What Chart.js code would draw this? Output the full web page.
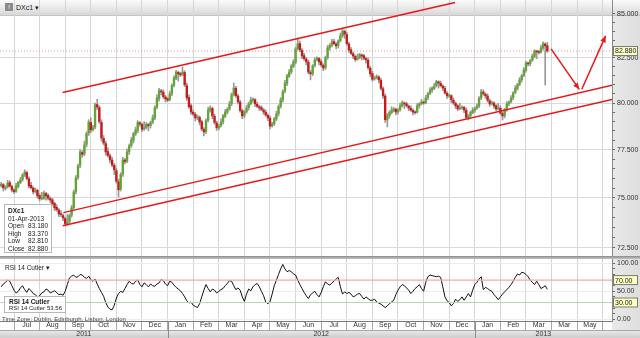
<!DOCTYPE html>
<html>
<head>
<meta charset="utf-8">
<script src="https://cdn.jsdelivr.net/npm/chart.js@4.4.1/dist/chart.umd.min.js"></script>
<style>
  html, body { margin: 0; padding: 0; background: #fff; }
  #wrap { position: relative; width: 640px; height: 338px; overflow: hidden; background: #fff;
          font-family: Arial, "Liberation Sans", sans-serif; color: #222; }
  #chart { position: absolute; left: 0; top: 0; z-index: 2; }
  .toolbar { position: absolute; left: 0; top: 0; width: 640px; height: 15px; z-index: 1;
             background: linear-gradient(#fbfbfb, #d9d9d9);
             border-bottom: 1px solid #c4c4c4; }
  .icon { position: absolute; left: 5px; top: 3px; width: 8px; height: 8px; background: #8a8a8a;
          color: #eee; font-size: 6px; line-height: 8px; text-align: center; }
  .sym { position: absolute; left: 16px; top: 3px; font-size: 7px; line-height: 9px; }
  .tip { position: absolute; z-index: 3; background: rgba(255,255,255,0.78); border: 1px solid #b8b8b8;
         font-size: 6.5px; line-height: 7.6px; padding: 2px 3px; box-sizing: border-box; white-space: nowrap; }
  .tip .b { font-weight: bold; }
  .tip .row { display: flex; justify-content: space-between; }
  .lbl { position: absolute; z-index: 3; font-size: 6.5px; line-height: 8px; white-space: nowrap; }
</style>
</head>
<body>
<div id="wrap">
  <div class="toolbar"><div class="icon">f</div><div class="sym">DXc1 &#9662;</div></div>
  <canvas id="chart" width="640" height="338"></canvas>
  <div class="tip" style="left:4px; top:204px; width:48px; height:49px;">
    <div class="b">DXc1</div>
    <div>01-Apr-2013</div>
    <div class="row"><span>Open</span><span>83.180</span></div>
    <div class="row"><span>High</span><span>83.370</span></div>
    <div class="row"><span>Low</span><span>82.810</span></div>
    <div class="row"><span>Close</span><span>82.880</span></div>
  </div>
  <div class="lbl" style="left:5px; top:264px;">RSI 14 Cutler &#9662;</div>
  <div class="tip" style="left:4px; top:296px; width:62px; height:17px; line-height:7px; padding:1px 3px 0 4px; font-size:6px;">
    <div class="b" style="font-size:6.5px;">RSI 14 Cutler</div>
    <div class="row"><span>RSI 14 Cutler</span><span>53.56</span></div>
  </div>
  <div class="lbl" style="left:2px; top:315px; font-size:6px; color:#444;">Time Zone: Dublin, Edinburgh, Lisbon, London</div>
</div>
<script>
// time axis: months counted from 1 Jul 2011
const monthLabels = ['Jul','Aug','Sep','Oct','Nov','Dec','Jan','Feb','Mar','Apr','May','Jun',
                     'Jul','Aug','Sep','Oct','Nov','Dec','Jan','Feb','Mar','Mar','May'];
const yearLabels = ['2011', '2012', '2013'];
const yearStarts = [-0.55, 6, 18];
const priceTicks = [72.5, 75, 77.5, 80, 82.5, 85];
const rsiTicks = [0, 50, 100];

const FIRST_CANDLE = -0.5;    // mid June 2011
const CANDLE_STEP = 1 / 12;   // months per candle
const X_MIN = -0.547, X_MAX = 23.36;

const candleOpen = [
  75.62,75.68,75.48,75.57,75.78,75.58,75.40,75.34,75.58,75.78,75.95,76.20,76.30,75.98,75.64,75.50,75.33,75.38,75.12,74.96,
  74.98,75.22,75.12,74.96,74.90,74.72,74.52,74.38,74.20,74.10,73.95,73.68,73.80,74.12,74.50,75.32,76.05,76.68,77.35,77.28,
  77.78,78.38,78.95,78.57,78.70,79.92,79.75,78.95,78.10,77.82,77.40,77.18,76.95,76.68,76.40,75.82,75.45,76.22,76.95,76.90,
  77.40,77.72,78.00,78.33,78.52,78.93,78.85,78.60,78.68,78.83,78.78,78.97,79.20,79.78,80.25,80.66,80.60,80.33,80.24,80.18,
  80.52,80.97,81.36,81.68,81.62,81.58,81.68,80.95,80.30,79.85,79.50,79.38,79.20,79.22,78.98,78.58,78.45,79.08,79.60,79.70,
  79.28,78.92,78.65,78.78,78.98,79.28,79.50,79.68,79.96,80.48,80.80,80.38,80.05,79.58,79.32,79.52,79.75,79.97,80.15,80.18,
  79.93,79.80,79.75,79.62,79.50,79.33,79.18,78.78,78.88,79.13,79.42,79.82,80.18,80.65,81.08,81.48,81.72,82.02,82.25,83.02,
  83.30,82.92,82.62,82.43,82.25,81.68,81.62,82.08,82.40,82.46,82.28,82.08,81.95,82.52,83.05,83.22,83.42,83.28,83.20,83.47,
  83.75,84.00,83.82,83.28,82.95,82.73,82.58,82.42,82.50,82.66,82.62,82.46,82.36,81.92,81.62,81.32,81.40,81.43,81.25,80.78,
  80.38,79.08,79.32,79.48,79.60,79.66,79.52,79.64,79.85,80.00,79.96,79.83,79.72,79.60,79.52,79.50,79.85,79.97,80.05,80.02,
  80.30,80.52,80.70,80.80,80.95,81.16,81.08,80.93,80.80,80.53,80.38,80.40,80.15,79.98,79.85,79.70,79.72,79.76,79.60,79.20,
  79.32,79.48,79.60,79.72,79.85,80.28,80.60,80.48,80.38,80.12,79.96,80.00,79.85,79.70,79.72,79.43,79.32,79.62,79.96,80.08,
  80.30,80.58,80.80,81.02,81.28,81.53,81.80,82.20,82.18,82.38,82.58,82.88,82.85,82.82,83.05,83.28,
  83.18];
const candleHigh = [
  75.80,75.74,75.62,75.90,75.88,75.66,75.46,75.75,75.85,76.05,76.25,76.45,76.38,76.08,75.80,75.58,75.50,75.44,75.20,75.28,
  75.35,75.28,75.20,75.05,74.98,74.78,74.65,74.46,74.35,74.18,74.02,74.15,74.18,74.62,75.40,76.15,76.75,77.50,77.45,77.95,
  78.45,79.10,79.20,78.80,80.00,80.20,79.85,79.10,78.25,77.95,77.60,77.28,77.10,76.78,76.55,75.95,76.30,77.10,77.05,77.55,
  77.80,78.15,78.42,78.70,79.05,79.00,78.92,79.00,78.95,78.90,79.02,79.35,79.85,80.45,80.80,80.75,80.72,80.42,80.30,80.65,
  81.05,81.50,81.80,81.75,81.70,81.99,81.78,81.10,80.45,79.95,79.62,79.48,79.35,79.30,79.08,78.68,79.15,79.78,79.85,79.78,
  79.40,79.02,78.85,79.15,79.38,79.65,79.75,80.10,80.55,81.10,80.92,80.48,80.15,79.68,79.60,79.88,80.05,80.32,80.28,80.24,
  80.05,79.88,79.85,79.70,79.62,79.42,79.30,78.95,79.22,79.55,79.90,80.30,80.72,81.25,81.58,81.85,82.12,82.40,83.10,83.62,
  83.45,83.02,82.75,82.52,82.38,81.80,82.12,82.50,82.55,82.52,82.40,82.16,82.60,83.20,83.30,83.55,83.55,83.36,83.52,83.90,
  84.19,84.08,83.95,83.38,83.08,82.82,82.65,82.72,82.75,82.72,82.70,82.54,82.48,82.02,81.75,81.48,81.55,81.50,81.35,80.88,
  80.50,79.42,79.58,79.80,79.75,79.72,79.70,80.00,80.12,80.06,80.05,79.90,79.85,79.68,79.58,79.98,80.02,80.20,80.12,80.42,
  80.58,80.85,80.88,81.08,81.25,81.22,81.20,81.00,80.92,80.62,80.50,80.46,80.28,80.06,79.92,79.98,79.85,79.82,79.72,79.38,
  79.56,79.75,79.78,79.95,80.35,80.75,80.72,80.56,80.50,80.22,80.10,80.06,79.92,79.98,79.85,79.52,79.72,80.08,80.12,80.40,
  80.62,80.95,81.08,81.40,81.58,81.95,82.30,82.26,82.42,82.72,82.95,82.93,82.92,83.20,83.40,83.34,
  83.37];
const candleLow = [
  75.55,75.35,75.40,75.50,75.55,75.30,75.22,75.28,75.50,75.72,75.85,76.10,75.92,75.50,75.45,75.20,75.25,74.98,74.85,74.90,
  74.92,74.88,74.90,74.75,74.62,74.35,74.32,74.05,74.05,73.85,73.58,73.62,73.70,74.02,74.42,75.20,75.95,76.55,77.10,77.18,
  77.65,78.25,78.40,78.48,78.60,79.65,78.90,77.95,77.75,77.20,77.10,76.80,76.60,76.20,75.75,75.05,75.35,76.10,76.75,76.82,
  77.25,77.62,77.85,78.25,78.40,78.75,78.45,78.52,78.60,78.50,78.65,78.88,79.10,79.68,80.10,80.45,80.25,80.05,80.08,80.12,
  80.40,80.88,81.28,81.20,81.45,81.50,80.90,80.15,79.70,79.38,79.30,79.02,79.10,78.82,78.50,78.23,78.35,78.98,79.50,79.15,
  78.85,78.52,78.55,78.70,78.85,79.20,79.40,79.60,79.85,80.38,80.30,79.95,79.50,79.15,79.20,79.45,79.62,79.90,80.05,79.80,
  79.75,79.60,79.58,79.38,79.28,79.05,78.60,78.70,78.78,79.05,79.30,79.72,80.05,80.55,80.95,81.40,81.60,81.95,82.15,82.95,
  82.85,82.45,82.35,82.10,81.60,81.27,81.50,81.98,82.32,82.10,82.00,81.78,81.85,82.42,82.92,83.12,83.22,83.00,83.05,83.40,
  83.65,83.60,83.20,82.80,82.68,82.45,82.30,82.36,82.44,82.38,82.40,82.20,81.85,81.45,81.20,81.25,81.32,81.10,80.70,80.25,
  78.95,78.71,79.18,79.40,79.52,79.35,79.40,79.56,79.78,79.70,79.78,79.58,79.55,79.35,79.40,79.45,79.72,79.90,79.92,79.96,
  80.18,80.45,80.58,80.74,80.88,80.82,80.88,80.68,80.48,80.25,80.30,80.02,79.92,79.70,79.58,79.64,79.66,79.48,79.15,79.08,
  79.20,79.42,79.50,79.65,79.75,80.18,80.42,80.25,80.05,79.82,79.90,79.70,79.58,79.64,79.38,79.08,79.20,79.55,79.85,80.00,
  80.18,80.50,80.70,80.95,81.15,81.45,81.70,82.05,82.05,82.30,82.50,82.45,82.70,82.76,82.95,80.99,
  82.81];
const candleClose = [
  75.70,75.51,75.55,75.76,75.60,75.41,75.32,75.61,75.80,75.92,76.18,76.33,76.00,75.61,75.52,75.31,75.40,75.10,74.95,75.00,
  75.25,75.10,74.98,74.89,74.70,74.49,74.40,74.18,74.15,73.98,73.70,73.78,74.10,74.49,75.30,76.02,76.65,77.38,77.25,77.75,
  78.35,78.97,78.55,78.66,79.90,79.78,79.00,78.12,77.85,77.38,77.20,76.96,76.70,76.44,75.85,75.41,76.20,76.96,76.88,77.38,
  77.70,78.01,78.35,78.55,78.95,78.87,78.58,78.66,78.85,78.77,78.95,79.19,79.75,80.28,80.68,80.61,80.35,80.22,80.15,80.50,
  80.95,81.38,81.70,81.60,81.55,81.71,81.00,80.28,79.80,79.51,79.40,79.19,79.25,78.97,78.60,78.44,79.05,79.62,79.72,79.30,
  78.95,78.66,78.75,78.97,79.30,79.51,79.65,79.95,80.45,80.82,80.40,80.06,79.60,79.30,79.50,79.73,79.95,80.17,80.20,79.95,
  79.82,79.73,79.65,79.51,79.35,79.19,78.75,78.87,79.15,79.40,79.80,80.17,80.62,81.10,81.50,81.71,82.05,82.27,83.00,83.29,
  82.95,82.60,82.45,82.27,81.70,81.60,82.05,82.38,82.48,82.27,82.10,81.93,82.50,83.06,83.20,83.40,83.30,83.18,83.45,83.74,
  84.02,83.85,83.30,82.94,82.75,82.60,82.40,82.49,82.68,82.60,82.48,82.38,81.95,81.60,81.30,81.38,81.45,81.27,80.80,80.39,
  79.10,79.30,79.50,79.62,79.68,79.51,79.62,79.84,80.02,79.95,79.85,79.73,79.62,79.51,79.48,79.84,79.95,80.06,80.00,80.28,
  80.50,80.71,80.82,80.93,81.18,81.10,80.95,80.82,80.55,80.39,80.42,80.17,80.00,79.84,79.68,79.73,79.78,79.62,79.22,79.30,
  79.50,79.62,79.70,79.84,80.25,80.61,80.50,80.39,80.15,79.95,80.02,79.84,79.68,79.73,79.45,79.30,79.65,79.95,80.05,80.28,
  80.55,80.82,81.00,81.27,81.50,81.82,82.22,82.16,82.35,82.60,82.90,82.83,82.80,83.06,83.30,83.18,
  82.88];
const rsiValues = [
  58,63,66,70,68,60,52,47,50,56,60,53,48,55,51,46,44,40,42,47,
  49,54,52,47,49,51,48,44,45,43,50,62,74,77,79,75,76,80,79,75,
  73,77,71,68,72,63,55,48,41,30,22,18,17,25,38,46,50,48,55,62,
  68,64,63,68,70,62,58,65,62,58,63,60,59,63,65,71,69,63,60,68,
  66,61,57,54,51,46,40,33,29,31,25,23,21,28,40,52,62,55,49,54,
  52,47,50,53,55,60,64,69,68,60,53,56,52,40,32,45,54,51,58,62,
  64,58,50,42,31,28,31,45,60,70,80,90,98,90,85,87,85,81,79,70,
  62,55,48,42,37,44,47,50,44,40,48,58,67,63,61,65,68,72,75,58,
  45,49,46,48,45,40,42,45,46,41,36,40,37,34,34,36,31,29,27,24,
  21,24,28,31,34,44,52,58,62,60,56,52,46,50,55,58,62,55,50,66,
  76,79,78,77,76,77,75,58,40,33,30,24,28,36,32,35,40,34,40,46,
  40,52,62,66,72,76,53,57,55,52,50,44,40,35,40,45,49,53,57,62,
  68,75,81,79,84,83,80,76,70,66,62,68,62,55,57,60,
  53.56];

// drawn trend channel and forecast arrows (month, price)
const channelUpper = [{x: 1.90, y: 80.57}, {x: 17.23, y: 85.66}];
const channelMiddle = [{x: 1.93, y: 74.25}, {x: 23.36, y: 80.97}];
const channelLower = [{x: 1.90, y: 73.59}, {x: 23.36, y: 80.19}];
const arrowDown = [{x: 20.98, y: 83.00}, {x: 22.08, y: 80.75}];
const arrowUp = [{x: 22.18, y: 80.75}, {x: 23.11, y: 83.74}];
const lastPrice = 82.88;
const rsiUpper = 70, rsiLower = 30;

const UP = '#62a534', DOWN = '#c91a1a', TREND = '#e8171c';
const candleX = i => FIRST_CANDLE + i * CANDLE_STEP;

const wicks = candleClose.map((c, i) => ({x: candleX(i), y: [candleLow[i], candleHigh[i]]}));
const bodies = candleClose.map((c, i) => ({x: candleX(i), y: [Math.min(candleOpen[i], c), Math.max(candleOpen[i], c)]}));
const rsiLine = rsiValues.map((v, i) => ({x: candleX(i), y: v}));

const trendLine = (data, color, extra) => Object.assign({
  type: 'line', data, borderColor: color, borderWidth: 1.5, pointRadius: 0, yAxisID: 'y', order: -1
}, extra || {});

const noPad = scale => { scale.paddingTop = 0; scale.paddingBottom = 0; scale.paddingLeft = 0; scale.paddingRight = 0; };

const valueBox = (ctx, left, py, text) => {
  ctx.fillStyle = '#ffffc4';
  ctx.fillRect(left + 1, py - 5, 25, 10);
  ctx.strokeStyle = '#777';
  ctx.lineWidth = 1;
  ctx.strokeRect(left + 1.5, py - 4.5, 24, 9);
  ctx.fillStyle = '#222';
  ctx.font = '7px Arial, "Liberation Sans", sans-serif';
  ctx.textBaseline = 'middle';
  ctx.textAlign = 'left';
  ctx.fillText(text, left + 3, py + 0.5);
};

const panels = {
  id: 'panels',
  beforeDraw(chart) {
    const {ctx, chartArea} = chart;
    ctx.save();
    ctx.fillStyle = '#fff';
    ctx.fillRect(0, 16, chart.width, chart.height - 16);
    const g = ctx.createLinearGradient(chartArea.right, 0, chart.width, 0);
    g.addColorStop(0, '#e9e9e9');
    g.addColorStop(1, '#dedede');
    ctx.fillStyle = g;
    ctx.fillRect(chartArea.right, 16, chart.width - chartArea.right, chart.height - 16);
    ctx.restore();
  },
  afterDatasetsDraw(chart) {
    const ctx = chart.ctx;
    ctx.save();
    ctx.fillStyle = TREND;
    chart.data.datasets.forEach((ds, i) => {
      if (!ds.arrow) return;
      const pts = chart.getDatasetMeta(i).data;
      const a = pts[pts.length - 2], b = pts[pts.length - 1];
      const ang = Math.atan2(b.y - a.y, b.x - a.x);
      ctx.beginPath();
      ctx.moveTo(b.x, b.y);
      ctx.lineTo(b.x - 7 * Math.cos(ang - 0.42), b.y - 7 * Math.sin(ang - 0.42));
      ctx.lineTo(b.x - 7 * Math.cos(ang + 0.42), b.y - 7 * Math.sin(ang + 0.42));
      ctx.closePath();
      ctx.fill();
    });
    ctx.restore();
  },
  afterDraw(chart) {
    const {ctx, chartArea, scales} = chart;
    const xs = scales.x, ys = scales.y, rs = scales.rsi;
    ctx.save();
    // panel separator
    const sg = ctx.createLinearGradient(0, rs.top, 0, rs.top + 3);
    sg.addColorStop(0, '#8c8c8c');
    sg.addColorStop(1, '#c4c4c4');
    ctx.fillStyle = sg;
    ctx.fillRect(0, rs.top, chart.width, 3);
    // year row
    const rowTop = xs.top + 9;
    const yg = ctx.createLinearGradient(0, rowTop, 0, chart.height);
    yg.addColorStop(0, '#ebebeb');
    yg.addColorStop(1, '#cdcdcd');
    ctx.fillStyle = yg;
    ctx.fillRect(0, rowTop, chart.width, chart.height - rowTop);
    ctx.strokeStyle = '#a8a8a8';
    ctx.lineWidth = 1;
    ctx.beginPath();
    ctx.moveTo(0, rowTop + 0.5);
    ctx.lineTo(chart.width, rowTop + 0.5);
    ctx.stroke();
    ctx.font = '7px Arial, "Liberation Sans", sans-serif';
    ctx.fillStyle = '#333';
    ctx.textAlign = 'center';
    ctx.textBaseline = 'middle';
    yearLabels.forEach((label, i) => {
      const a = xs.getPixelForValue(Math.max(yearStarts[i], X_MIN));
      const b = xs.getPixelForValue(i + 1 < yearStarts.length ? yearStarts[i + 1] : X_MAX);
      if (i > 0) {
        ctx.strokeStyle = '#8c8c8c';
        ctx.beginPath();
        ctx.moveTo(Math.round(a) + 0.5, xs.top);
        ctx.lineTo(Math.round(a) + 0.5, chart.height);
        ctx.stroke();
      }
      ctx.fillText(label, (a + b) / 2, rowTop + 4.5);
    });
    // value boxes on the right axes
    valueBox(ctx, chartArea.right, ys.getPixelForValue(lastPrice), lastPrice.toFixed(3));
    valueBox(ctx, chartArea.right, rs.getPixelForValue(rsiUpper), rsiUpper.toFixed(2));
    valueBox(ctx, chartArea.right, rs.getPixelForValue(rsiLower), rsiLower.toFixed(2));
    ctx.restore();
  }
};

Chart.defaults.font.family = 'Arial, "Liberation Sans", sans-serif';
Chart.defaults.font.size = 7;
Chart.defaults.color = '#333';

new Chart(document.getElementById('chart'), {
  type: 'bar',
  data: {
    datasets: [
      {data: wicks, backgroundColor: '#999999', barThickness: 1, grouped: false, yAxisID: 'y', order: 2},
      {data: bodies, barThickness: 1.7, grouped: false, yAxisID: 'y', order: 1,
       backgroundColor: c => (c.dataIndex !== undefined && candleClose[c.dataIndex] < candleOpen[c.dataIndex]) ? DOWN : UP},
      trendLine([{x: X_MIN, y: lastPrice}, {x: X_MAX, y: lastPrice}], '#f09a9a', {borderWidth: 1, borderDash: [1, 2], order: 3}),
      trendLine(channelUpper, TREND, {clip: false}),
      trendLine(channelMiddle, TREND),
      trendLine(channelLower, TREND),
      trendLine(arrowDown, TREND, {arrow: true}),
      trendLine(arrowUp, TREND, {arrow: true}),
      trendLine([{x: X_MIN, y: rsiUpper}, {x: X_MAX, y: rsiUpper}], '#f5aaaa', {yAxisID: 'rsi', borderWidth: 1.2}),
      trendLine([{x: X_MIN, y: rsiLower}, {x: X_MAX, y: rsiLower}], '#b9d7b1', {yAxisID: 'rsi', borderWidth: 1.2}),
      {type: 'line', data: rsiLine, yAxisID: 'rsi', borderColor: '#111', borderWidth: 1, pointRadius: 0, order: 0}
    ]
  },
  options: {
    responsive: false,
    animation: false,
    events: [],
    layout: {padding: 0},
    plugins: {legend: {display: false}, tooltip: {enabled: false}},
    scales: {
      x: {
        type: 'linear', position: 'bottom', min: X_MIN, max: X_MAX, offset: false, bounds: 'data',
        afterBuildTicks: s => { s.ticks = monthLabels.map((m, i) => ({value: i + 0.5})); },
        afterFit: s => { s.height = 17; noPad(s); },
        ticks: {autoSkip: false, maxRotation: 0, padding: -9, color: '#333',
                callback: (v, i) => monthLabels[i]},
        grid: {offset: true, color: '#d6d6d6', tickColor: '#a9a9a9', tickLength: 9},
        border: {color: '#7a7a7a'}
      },
      y: {
        type: 'logarithmic', position: 'right', stack: 'panels', stackWeight: 256,
        min: 72.09, max: 85.81, bounds: 'data',
        afterBuildTicks: s => {
          const t = [];
          for (let v = 72.5; v <= 85.01; v += 0.5) t.push({value: Math.round(v * 10) / 10});
          s.ticks = t;
        },
        afterFit: s => { s.width = 28; noPad(s); },
        ticks: {autoSkip: false, padding: 2, color: '#333',
                callback: v => priceTicks.includes(v) ? v.toFixed(3) : ''},
        grid: {color: c => (c.tick && priceTicks.includes(c.tick.value)) ? '#dadada' : 'rgba(0,0,0,0)',
               tickColor: '#666', tickLength: 3},
        border: {color: '#8a8a8a'}
      },
      rsi: {
        type: 'linear', position: 'right', stack: 'panels', stackWeight: 65,
        min: -3.04, max: 113.04, bounds: 'data',
        afterBuildTicks: s => {
          const t = [];
          for (let v = 0; v <= 100; v += 10) t.push({value: v});
          s.ticks = t;
        },
        afterFit: s => { s.width = 28; noPad(s); },
        ticks: {autoSkip: false, padding: 2, color: '#333',
                callback: v => rsiTicks.includes(v) ? v.toFixed(2) : ''},
        grid: {color: c => (c.tick && rsiTicks.includes(c.tick.value)) ? '#ececec' : 'rgba(0,0,0,0)',
               tickColor: '#666', tickLength: 3},
        border: {color: '#8a8a8a'}
      }
    }
  },
  plugins: [panels]
});
</script>
</body>
</html>
